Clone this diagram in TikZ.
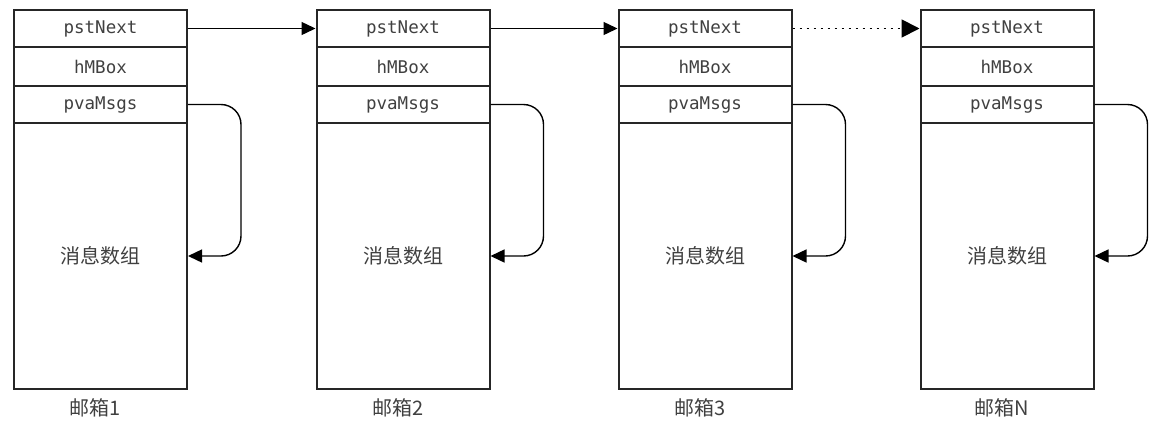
\documentclass[tikz,border=0pt]{standalone}
\usepackage{fontspec}
\setmonofont{DejaVu Sans Mono}
\newfontfamily\cjk{Noto Sans CJK SC}
\usetikzlibrary{arrows.meta}

\tikzset{
  cell/.style={draw=black!85, line width=2pt, minimum width=173pt, inner sep=0pt,
    text=black!75, font=\ttfamily\fontsize{17.5}{18}\selectfont},
  cjktext/.style={text=black!75, font=\cjk\fontsize{20}{22}\selectfont},
  link/.style={draw=black, line width=1.4pt, -{Triangle[length=14pt, width=13pt]}}
}

\begin{document}
\begin{tikzpicture}[x=1pt, y=-1pt]
    \useasboundingbox (0,0) rectangle (1152,421);

    % one mailbox per column
    \foreach \i/\x/\tag in {1/100.5/1, 2/403/2, 3/705/3, 4/1007/N} {
        \node[cell, minimum height=37pt] (next\i) at (\x, 28.5) {pstNext};
        \node[cell, minimum height=39pt] (mbox\i) at (\x, 66.5) {hMBox};
        \node[cell, minimum height=37pt] (msgs\i) at (\x, 104.5) {pvaMsgs};
        \node[cell, cjktext, minimum height=266pt] (arr\i) at (\x, 256) {消息数组};
        \node[cjktext] (lbl\i) at (\x-5, 408) {邮箱\tag};
    }

    \draw[link] (next1.east) -- (next2.west);
    \draw[link] (next2.east) -- (next3.west);
    \draw[link, line width=1.8pt, dash pattern=on 2pt off 5pt,
          -{Triangle[length=18pt, width=18pt]}] (next3.east) -- (next4.west);

    \foreach \i in {1,...,4}
        \draw[link, rounded corners=20pt] (msgs\i.east) -- ++(53,0) |- (arr\i.east);
\end{tikzpicture}
\end{document}
